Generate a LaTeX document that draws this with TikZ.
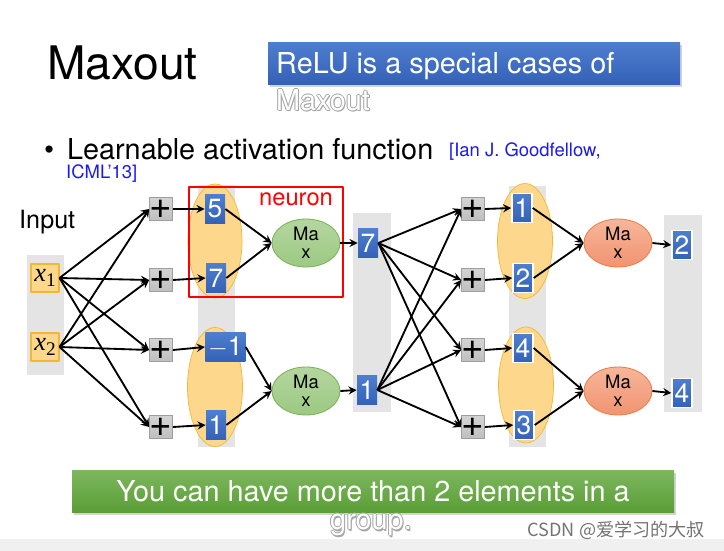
\documentclass[tikz,border=0pt]{standalone}
\usepackage{fontspec}
\setmainfont{TeX Gyre Heros}
\newfontfamily\tnr{Liberation Serif}
\newfontfamily\cjk{Noto Sans CJK SC}
\usetikzlibrary{shapes.geometric,shadows}
\newcommand\fsz[1]{\fontsize{#1}{#1}\selectfont}
\definecolor{vbluet}{HTML}{4E7ED0}
\definecolor{vblueb}{HTML}{3461B6}
\definecolor{grpfill}{HTML}{FDD88C}
\definecolor{grpline}{HTML}{F4B731}
\definecolor{mgreent}{HTML}{B5D6A0}
\definecolor{mgreenb}{HTML}{9CC982}
\definecolor{mgreenl}{HTML}{7DB35A}
\definecolor{moranget}{HTML}{F6B79A}
\definecolor{morangeb}{HTML}{F19370}
\definecolor{morangel}{HTML}{EC7F4E}
\definecolor{colgray}{HTML}{E4E4E4}
\definecolor{ggreent}{HTML}{7DB75E}
\definecolor{ggreenb}{HTML}{5A9E36}
\definecolor{citeblue}{HTML}{1A1AF0}
\begin{document}
\begin{tikzpicture}[x=0.02cm,y=-0.02cm,>=stealth,line join=round,
	arr/.style={->,line width=1.05pt},
	val/.style={rectangle,inner sep=0pt,minimum width=20*0.02cm,minimum height=29*0.02cm,
		top color=vbluet,bottom color=vblueb,text=white,font=\fsz{15}},
	valw/.style={val,draw=white,line width=0.8pt},
	plusbox/.style={rectangle,inner sep=0pt,minimum width=23*0.02cm,minimum height=23*0.02cm,
		top color=black!17,bottom color=black!25,draw=black!38,line width=0.4pt,font=\fsz{22}},
	xbox/.style={rectangle,inner sep=0pt,minimum width=28*0.02cm,minimum height=28*0.02cm,
		fill=grpfill,draw=grpline,line width=0.6pt},
	grp/.style={ellipse,inner sep=0pt,fill=grpfill,draw=grpline,line width=0.4pt},
	gmax/.style={ellipse,inner sep=0pt,minimum width=68*0.02cm,minimum height=48*0.02cm,
		top color=mgreent,bottom color=mgreenb,draw=mgreenl,line width=0.5pt,
		align=center,font=\fsz{10.5}},
	omax/.style={gmax,top color=moranget,bottom color=morangeb,draw=morangel},
	col/.style={fill=colgray}]
\useasboundingbox (0,0) rectangle (724,551);
\fill[black!6] (0,539) rectangle (724,551);

% title and boxes
\node[anchor=west,font=\fsz{26.3}] (title) at (41,63) {Maxout};
\node[rectangle,minimum width=412*0.02cm,minimum height=42*0.02cm,top color=vbluet,bottom color=vblueb,
	drop shadow={opacity=0.35,shadow xshift=1pt,shadow yshift=-1.5pt}] (relu) at (474,63) {};
\node[anchor=west,text=white,font=\fsz{16.4}] (relut) at (270,66) {ReLU is a special cases of};
\foreach \dx/\dy in {-1/0,1/0,0/-1,0/1,1/1.5}
	\node[anchor=west,text=black!35,font=\fsz{16.4}] at (270+\dx,100+\dy) {Maxout};
\node[anchor=west,text=white,font=\fsz{16.4}] (relum) at (270,100) {Maxout};

\node[anchor=west,font=\fsz{16.4}] (bul) at (38,149) {\textbullet\ \,Learnable activation function};
\node[anchor=west,text=citeblue,font=\fsz{10.5}] (cite1) at (443,152) {[Ian J. Goodfellow,};
\node[anchor=west,text=citeblue,font=\fsz{10.5}] (cite2) at (60,174) {ICML’13]};
\node[anchor=west,font=\fsz{14.3}] (inp) at (13,222) {Input};

% columns
\fill[col] (27,255) rectangle (64,375);
\fill[col] (198,185) rectangle (235,447);
\fill[col] (353,213) rectangle (391,412);
\fill[col] (509,186) rectangle (546,447);
\fill[col] (664,215) rectangle (702,412);

% groups
\node[grp,minimum width=54*0.02cm,minimum height=114*0.02cm] (g1) at (215,241) {};
\node[grp,minimum width=55*0.02cm,minimum height=119*0.02cm] (g2) at (215,387) {};
\node[grp,minimum width=55*0.02cm,minimum height=115*0.02cm] (g3) at (525,241) {};
\node[grp,minimum width=55*0.02cm,minimum height=116*0.02cm] (g4) at (526,385) {};

\draw[red,line width=1.6pt] (189,187) rectangle (343,297);
\node[text=red,font=\fsz{13.5}] (neu) at (296,199) {neuron};

% inputs
\node[xbox] (x1) at (45,278) {\tnr\fsz{15}\textit{x}\raisebox{-3pt}{\fsz{11}1}};
\node[xbox] (x2) at (45,347) {\tnr\fsz{15}\textit{x}\raisebox{-3pt}{\fsz{11}2}};

% first layer
\foreach \i/\y in {1/209,2/280,3/350,4/427}{
	\node[plusbox] (a\i) at (161,\y) {+};
	\node[plusbox] (b\i) at (473,\y) {+};
}
\node[val] (v1) at (215,209) {5};
\node[val] (v2) at (216,278) {7};
\node[val,minimum width=40*0.02cm,anchor=west] (v3) at (205,347) {$-$1};
\node[val] (v4) at (216,425) {1};

\node[gmax] (m1) at (306,243) {Ma\\x};
\node[gmax] (m2) at (306,391) {Ma\\x};

\node[val] (h1) at (368,243) {7};
\node[val] (h2) at (367,390) {1};

% second layer
\node[valw] (w1) at (522,208) {1};
\node[valw] (w2) at (523,278) {2};
\node[valw] (w3) at (523,348) {4};
\node[valw] (w4) at (524,425) {3};

\node[omax] (n1) at (618,243) {Ma\\x};
\node[omax] (n2) at (618,391) {Ma\\x};

\node[valw] (o1) at (682,245) {2};
\node[valw] (o2) at (682,393) {4};

% connections
\foreach \i in {1,...,4}{
	\draw[arr] (x1.east) -- (a\i.west);
	\draw[arr] (x2.east) -- (a\i.west);
	\draw[arr] (a\i.east) -- (v\i.west);
	\draw[arr] (h1.east) -- (b\i.west);
	\draw[arr] (h2.east) -- (b\i.west);
	\draw[arr] (b\i.east) -- (w\i.west);
}
\draw[arr] (v1.east) -- (m1.west);
\draw[arr] (v2.east) -- (m1.west);
\draw[arr] (v3.east) -- (m2.west);
\draw[arr] (v4.east) -- (m2.west);
\draw[arr] (m1.east) -- (h1.west);
\draw[arr] (m2.east) -- (h2.west);
\draw[arr] (w1.east) -- (n1.west);
\draw[arr] (w2.east) -- (n1.west);
\draw[arr] (w3.east) -- (n2.west);
\draw[arr] (w4.east) -- (n2.west);
\draw[arr] (n1.east) -- (o1.west);
\draw[arr] (n2.east) -- (o2.west);

% bottom note
\node[rectangle,minimum width=602*0.02cm,minimum height=42*0.02cm,top color=ggreent,bottom color=ggreenb,
	drop shadow={opacity=0.35,shadow xshift=1pt,shadow yshift=-1.5pt}] (note) at (373,491) {};
\node[text=white,font=\fsz{16.4}] (notet) at (373,491) {You can have more than 2 elements in a};
\foreach \dx/\dy in {-1/0,1/0,0/-1,0/1,1/1.5}
	\node[text=black!35,font=\fsz{16.4}] at (371+\dx,525+\dy) {group.};
\node[text=white,font=\fsz{16.4}] (noteg) at (371,525) {group.};
\node[anchor=east,text=black!55,font=\cjk\fsz{10.3}] (mark) at (711,530) {CSDN @爱学习的大叔};
\end{tikzpicture}
\end{document}
